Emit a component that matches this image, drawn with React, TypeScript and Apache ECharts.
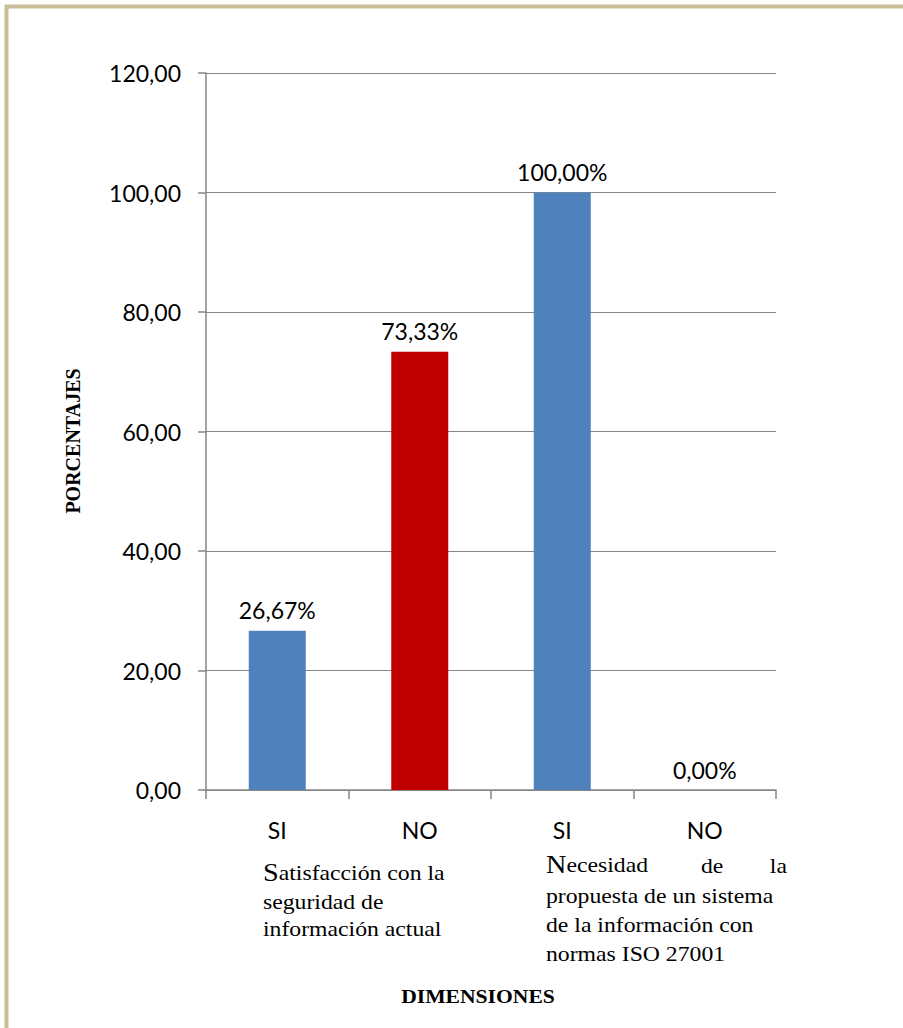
import React, { useEffect, useRef } from "react";
import * as echarts from "echarts";

const categories = ["SI", "NO", "SI", "NO"];
const values = [26.67, 73.33, 100.0, 0.0];
const barColors = ["#4F81BD", "#C00000", "#4F81BD", "#4F81BD"];
const yMin = 0;
const yMax = 120;
const yInterval = 20;
const group1Lines = ["Satisfacción con la", "seguridad de", "información actual"];
const group2First = ["Necesidad", "de", "la"];
const group2Lines = ["propuesta de un sistema", "de la información con", "normas ISO 27001"];
const yAxisTitle = "PORCENTAJES";
const xAxisTitle = "DIMENSIONES";

const fmt = (v: number) => v.toFixed(2).replace(".", ",");

const SANS = "Lato, 'Open Sans', sans-serif";
const SERIF = "'Liberation Serif', 'DejaVu Serif', serif";

function capRich(line: string) {
  return `{cap|${line.charAt(0)}}{t|${line.slice(1)}}`;
}

const serifRich = {
  cap: { fontFamily: SERIF, fontSize: 25, fill: "#000" },
  t: { fontFamily: SERIF, fontSize: 21, fill: "#000" },
};

export default function App() {
  const ref = useRef<HTMLDivElement>(null);
  useEffect(() => {
    if (!ref.current) return;
    const chart = echarts.init(ref.current, undefined, { renderer: "svg" });
    const gText = (
      text: string,
      x: number,
      y: number,
      align: string,
      first: boolean
    ) => ({
      type: "text",
      x,
      y,
      scaleX: 1.13,
      style: first
        ? { text: capRich(text), rich: serifRich, align, verticalAlign: "middle" }
        : {
            text,
            font: `21px ${SERIF}`,
            fill: "#000",
            align,
            verticalAlign: "middle",
          },
    });
    const graphics: any[] = [
      {
        type: "rect",
        shape: { x: 6.5, y: 6.5, width: 1000, height: 1100 },
        style: { fill: "none", stroke: "#C9BE98", lineWidth: 4 },
        silent: true,
      },
      gText(group1Lines[0], 263, 873, "left", true),
      gText(group1Lines[1], 263, 902, "left", false),
      gText(group1Lines[2], 263, 929, "left", false),
      gText(group2First[0], 546, 865, "left", true),
      gText(group2First[1], 701, 866, "left", false),
      gText(group2First[2], 787, 866, "right", false),
      gText(group2Lines[0], 546, 896, "left", false),
      gText(group2Lines[1], 546, 925, "left", false),
      gText(group2Lines[2], 546, 954, "left", false),
      {
        type: "text",
        x: 478,
        y: 997,
        scaleX: 1.2,
        style: {
          text: xAxisTitle,
          font: `bold 18px ${SERIF}`,
          fill: "#000",
          align: "center",
          verticalAlign: "middle",
        },
      },
      {
        type: "text",
        x: 73,
        y: 441,
        rotation: Math.PI / 2,
        style: {
          text: yAxisTitle,
          font: `bold 20px ${SERIF}`,
          fill: "#000",
          align: "center",
          verticalAlign: "middle",
        },
      },
    ];
    chart.setOption({
      animation: false,
      grid: { left: 206, top: 73, width: 570, height: 717, containLabel: false },
      xAxis: {
        type: "category",
        data: categories,
        boundaryGap: true,
        axisLine: { show: true, lineStyle: { color: "#868686", width: 1.5 } },
        axisTick: {
          show: true,
          alignWithLabel: false,
          length: 9,
          lineStyle: { color: "#868686", width: 1.5 },
        },
        axisLabel: {
          margin: 28,
          fontFamily: SANS,
          fontSize: 23,
          color: "#000",
        },
      },
      yAxis: {
        type: "value",
        min: yMin,
        max: yMax,
        interval: yInterval,
        axisLine: { show: true, lineStyle: { color: "#868686", width: 1.5 } },
        axisTick: { show: true, length: 8, lineStyle: { color: "#868686", width: 1.5 } },
        splitLine: { show: true, lineStyle: { color: "#868686", width: 1.2 } },
        axisLabel: {
          margin: 25,
          fontFamily: SANS,
          fontSize: 23,
          color: "#000",
          formatter: (v: number) => fmt(v),
        },
      },
      series: [
        {
          type: "bar",
          barWidth: "40%",
          data: values.map((v, i) => ({ value: v, itemStyle: { color: barColors[i] } })),
          label: {
            show: true,
            position: "top",
            distance: 9,
            fontFamily: SANS,
            fontSize: 23,
            color: "#000",
            formatter: (p: any) => fmt(p.value) + "%",
          },
        },
      ],
      graphic: graphics,
    });
    return () => chart.dispose();
  }, []);
  return (
    <div
      ref={ref}
      style={{ position: "absolute", left: 0, top: 0, width: 903, height: 1028, background: "#fff" }}
    />
  );
}
